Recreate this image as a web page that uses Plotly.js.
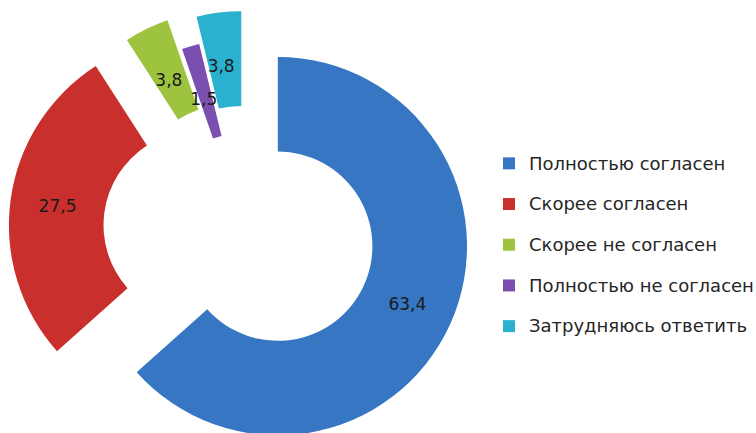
<!DOCTYPE html>
<html><head><meta charset="utf-8">
<script src="https://cdn.plot.ly/plotly-3.0.1.min.js"></script>
<style>
html,body{margin:0;padding:0;overflow:hidden;background:#fff;width:756px;height:433px}
#chart{position:absolute;left:0;top:-5px;width:756px;height:473px}
</style>
</head><body><div id="chart"></div>
<script>
const categories = ["Полностью согласен", "Скорее согласен", "Скорее не согласен", "Полностью не согласен", "Затрудняюсь ответить"];
const values = [63.4, 27.5, 3.8, 1.5, 3.8];
const colors = ["#3776C2", "#C9302D", "#9DC33F", "#7B4FB0", "#2BB1D0"];
const pulls = [0.19, 0.25, 0.19, 0.02, 0.165];

// label placement helpers for the narrow slices (blank lead lines / lead spaces)
const leadLines = [0, 0, 3, 4, 3];
const leadSpaces = [0, 0, 5, 4, 0];
const NB = '\u00A0';
const textTemplates = leadLines.map((n, i) =>
  (NB + '<br>').repeat(n) + NB.repeat(leadSpaces[i]) + '%{value:.1f}');

const legendLabels = categories.map(c => '<span style="font-size:18px;baseline-shift:5px">' + c + '</span>');

const trace = {
  type: 'pie',
  labels: legendLabels,
  values: values,
  marker: {colors: colors, line: {width: 0}},
  pull: pulls,
  hole: 0.5,
  sort: false,
  direction: 'clockwise',
  rotation: 0,
  textposition: 'inside',
  insidetextorientation: 'horizontal',
  texttemplate: textTemplates,
  textfont: {family: 'DejaVu Sans, sans-serif', size: 17, color: '#1a1a1a'},
  hoverinfo: 'none',
  domain: {x: [0.01124, 0.6369], y: [0, 1]}
};

const layout = {
  width: 756, height: 473,
  margin: {l: 0, r: 0, t: 0, b: 0, autoexpand: false},
  paper_bgcolor: '#ffffff',
  separators: ', ',
  uniformtext: {mode: 'show', minsize: 17},
  showlegend: true,
  legend: {
    x: 0.6468, xanchor: 'left', y: 0.4715, yanchor: 'middle',
    font: {family: 'DejaVu Sans, sans-serif', size: 29, color: '#262626'},
    bgcolor: 'rgba(0,0,0,0)'
  }
};

Plotly.newPlot('chart', [trace], layout, {displayModeBar: false, staticPlot: true});
</script>
</body></html>
